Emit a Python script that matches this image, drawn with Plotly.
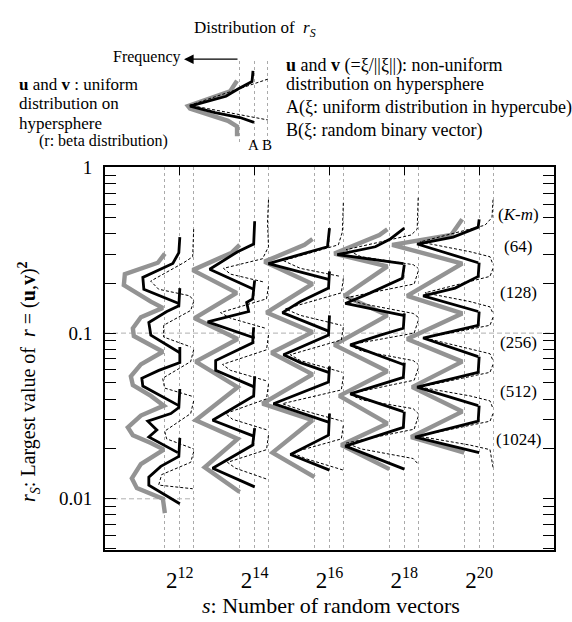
import math
import plotly.graph_objects as go

# ---------------- data ----------------
S_EXP = [12, 14, 16, 18, 20]                 # s = 2^k
TOP_TICKS = [12, 14, 16, 18, 20, 22]
XTICK_TEXT = ["2<sup>12</sup>", "2<sup>14</sup>", "2<sup>16</sup>", "2<sup>18</sup>", "2<sup>20</sup>"]
Y_TICKS = [0.01, 0.1, 1]
Y_TICK_TEXT = ["0.01", "0.1", "1"]
Y_MINOR = [0.005, 0.006, 0.007, 0.008, 0.009, 0.02, 0.03, 0.04, 0.05, 0.06, 0.07, 0.08, 0.09,
           0.2, 0.3, 0.4, 0.5, 0.6, 0.7, 0.8, 0.9]
GRID_R = [0.1, 0.01]            # dashed horizontal reference lines
GRID_X_END = [22.0, 12.4]       # how far (log2 s) each reference line is drawn
KM_LABELS = ["(<i>K</i>-<i>m</i>)", "(64)", "(128)", "(256)", "(512)", "(1024)"]
KM_LABEL_R = [0.52, 0.332, 0.175, 0.0873, 0.0447, 0.0227]

# baselines of the three distributions in each s-group (log2 units relative to 2^k)
GREY_OFFSET = -0.40
A_OFFSET = 0.0
B_OFFSET = 0.37
FREQ_PER_LOG2 = 37.4   # frequency units per log2(s) unit (frequency drawn leftwards)

# --- s = 2^12 ---
GREY_R_12 = [0.302, 0.266, 0.227, 0.195, 0.155, 0.142, 0.1246, 0.107, 0.0960, 0.0849, 0.0772, 0.0647, 0.0549,
             0.0485, 0.0418, 0.0365, 0.0318, 0.0270, 0.0242, 0.0217, 0.0198, 0.0162, 0.0133, 0.0116, 0.0100, 0.0082]
GREY_F_12 = [0, 7, 40, 41, 14, 2, 24, 32, 31, 14, 2, 24, 34, 32, 14, 1, 24, 37, 32, 14, 1, 24, 33, 28, 2, 0]
BLACK_R_12 = [0.380, 0.306, 0.263, 0.217, 0.184, 0.151, None, 0.187, 0.146, 0.135, 0.116, 0.0973, 0.0761, None,
              0.0826, 0.0664, 0.0596, 0.0534, 0.0479, 0.0365, None, 0.0460, 0.0355, 0.0327, 0.0294, 0.0260, 0.0236,
              0.0190, None, 0.0233, 0.0180, 0.0157, 0.0135, 0.0121, 0.00934]
BLACK_F_12 = [0, 1, 7, 37, 36, 1, None, 0, 1, 13, 31, 29, 0, None, 0, 0, 21, 38, 37, 1, None, 0, 1, 9, 32, 23, 31,
              2, None, 0, 1, 19, 31, 31, 0]
DASH_R_12 = [0.424, 0.289, 0.266, 0.206, 0.184, 0.168, 0.157, None, 0.155, 0.137, 0.1115, 0.0947, 0.0826, None,
             0.0793, 0.0673, 0.0534, 0.0466, 0.0413, None, 0.0390, 0.0327, 0.0256, 0.0230, 0.0200, None,
             0.0192, 0.0166, 0.0140, 0.0121, 0.0115]
DASH_F_12 = [0, 1, 10, 43, 35, 4, 0, None, 0, 3, 30, 30, 3, None, 0, 3, 31, 29, 0, None, 0, 3, 29, 27, 0, None,
             0, 3, 32, 35, 1]

# --- s = 2^14 ---
GREY_R_14 = [0.341, 0.306, 0.240, 0.175, 0.123, 0.0921, 0.0673, 0.0472, 0.0298, 0.0230, 0.0155, 0.0110]
GREY_F_14 = [0, 8, 47, 3, 45, 2, 44, 2, 44, 2, 35, 0]
BLACK_R_14 = [0.473, 0.345, 0.310, 0.243, 0.184, None, 0.208, 0.161, 0.153, 0.135, 0.117, 0.0934, None,
              0.1085, 0.0873, 0.0683, 0.0596, 0.0472, None, 0.0549, 0.0418, 0.0298, 0.0239, None,
              0.0267, 0.0211, 0.0153, 0.0118]
BLACK_F_14 = [0, 1, 17, 45, 1, None, 0, 2, 8, 6, 47, 0, None, 1, 2, 39, 39, 0, None, 0, 1, 42, 1, None,
              0, 2, 42, 0]
DASH_R_14 = [0.638, 0.466, 0.332, 0.281, 0.246, 0.227, 0.203, None, 0.192, 0.161, 0.133, 0.123, 0.107, None,
             0.0973, 0.0793, 0.0647, 0.0596, 0.0513, None, 0.0492, 0.0401, 0.0327, 0.0302, 0.0260, None,
             0.0242, 0.0198, 0.0166, 0.0153, 0.0131]
DASH_F_14 = [0, 1, 0, 6, 45, 38, 4, None, 0, 2, 48, 38, 3, None, 0, 2, 46, 38, 1, None, 0, 2, 43, 36, 1, None,
             0, 2, 41, 33, 1]

# --- s = 2^16 ---
GREY_R_16 = [0.370, 0.341, 0.270, 0.198, 0.133, 0.1014, 0.0761, 0.0564, 0.0375, 0.0298, 0.0190, 0.0135]
GREY_F_16 = [2, 10, 50, 2, 48, 2, 43, 2, 52, 2, 42, 0]
BLACK_R_16 = [0.430, 0.332, 0.302, 0.263, 0.211, None, 0.236, 0.187, 0.155, 0.133, 0.1028, None,
              0.128, 0.0973, 0.0741, 0.0664, 0.0580, None, 0.0630, 0.0506, 0.0375, 0.0290, None,
              0.0327, 0.0242, 0.0185, 0.0149]
BLACK_F_16 = [0, 2, 26, 61, 1, None, 0, 1, 29, 47, 1, None, 0, 1, 46, 29, 1, None, 0, 1, 56, 1, None,
              0, 1, 39, 0]
DASH_R_16 = [0.612, 0.407, 0.341, 0.274, 0.246, 0.220, None, 0.214, 0.175, 0.140, 0.128, 0.1115, None,
             0.1085, 0.0909, 0.0741, 0.0683, 0.0580, None, 0.0549, 0.0454, 0.0375, 0.0345, 0.0294, None,
             0.0277, 0.0230, 0.0190, 0.0175, 0.0149]
DASH_F_16 = [0, 1, 5, 60, 43, 3, None, 0, 2, 58, 43, 2, None, 0, 2, 53, 43, 1, None, 0, 2, 61, 43, 1, None,
             0, 2, 51, 38, 0]

# --- s = 2^18 ---
GREY_R_18 = [0.424, 0.391, 0.302, 0.253, 0.168, 0.128, 0.0849, 0.0588, 0.0418, 0.0285, 0.0211, 0.0151]
GREY_F_18 = [2, 10, 55, 2, 45, 2, 55, 2, 50, 2, 48, 0]
BLACK_R_18 = [0.430, 0.370, 0.332, 0.298, 0.263, None, 0.259, 0.214, 0.175, 0.151, 0.128, None,
              0.1315, 0.107, 0.0973, 0.0849, 0.0647, None, 0.0664, 0.0541, 0.0430, 0.0336, None,
              0.0336, 0.0270, 0.0208, 0.0151]
BLACK_F_18 = [0, 14, 29, 67, 1, None, 0, 2, 34, 59, 1, None, 0, 1, 24, 54, 1, None, 0, 1, 54, 1, None,
              0, 1, 59, 0]
DASH_R_18 = [0.656, 0.424, 0.391, 0.319, 0.289, 0.259, 0.246, None, 0.236, 0.198, 0.1635, 0.151, 0.1315, 0.1246,
             None, 0.119, 0.1000, 0.0849, 0.0782, 0.0683, 0.0647, None, 0.0613, 0.0520, 0.0430, 0.0396, 0.0350,
             0.0327, None, 0.0314, 0.0263, 0.0217, 0.0200, 0.0175, 0.0162]
DASH_F_18 = [0, 1, 7, 72, 57, 5, 0, None, 0, 4, 72, 57, 5, 0, None, 0, 4, 69, 57, 5, 0, None, 0, 4, 69, 57, 5,
             0, None, 0, 4, 72, 57, 5, 0]

# --- s = 2^20 ---
GREY_R_20 = [0.486, 0.391, 0.341, 0.263, 0.168, 0.1315, 0.0921, 0.0673, 0.0472, 0.0336, 0.0236, 0.0190]
GREY_F_20 = [2, 13, 72, 2, 57, 2, 57, 2, 52, 2, 53, 0]
BLACK_R_20 = [0.486, 0.436, 0.380, 0.345, 0.266, None, 0.266, 0.220, 0.187, 0.168, 0.135, None,
              0.135, 0.1115, 0.0934, 0.0721, None, 0.0721, 0.0580, 0.0472, 0.0365, None,
              0.0365, 0.0294, 0.0236, 0.0190]
BLACK_F_20 = [0, 1, 26, 62, 1, None, 0, 1, 24, 56, 1, None, 0, 1, 56, 1, None, 0, 1, 62, 1, None,
              0, 1, 64, 0]
DASH_R_20 = [0.638, 0.499, 0.448, 0.355, 0.310, 0.289, 0.259, None, 0.246, 0.220, 0.175, 0.155, 0.144, 0.1315,
             None, 0.1246, 0.1115, 0.0934, 0.0804, 0.0751, 0.0683, None, 0.0647, 0.0580, 0.0472, 0.0418, 0.0390,
             0.0350, None, 0.0327, 0.0294, 0.0239, 0.0211, 0.0198, 0.0155]
DASH_F_20 = [0, 1, 8, 73, 23, 3, 0, None, 0, 3, 68, 23, 3, 0, None, 0, 3, 68, 23, 3, 0, None, 0, 3, 73, 23, 3,
             0, None, 0, 3, 75, 23, 3, 0]

# --- legend sketch (value level 0..1, frequency units) ---
LEG_GREY_V = [0.76, 0.63, 0.45, 0.42, 0.27, 0.20, 0.08]
LEG_GREY_F = [2, 9, 51, 49, 11, 2, 2]
LEG_BLACK_V = [0.88, 0.75, 0.66, 0.57, 0.45, 0.37, 0.31, 0.25]
LEG_BLACK_F = [1, 2, 16, 28, 64, 39, 14, 0]
LEG_DASH_V = [0.78, 0.46, 0.28]
LEG_DASH_F = [0, 78, 0]

GREY = dict(s12=(GREY_R_12, GREY_F_12), s14=(GREY_R_14, GREY_F_14), s16=(GREY_R_16, GREY_F_16),
            s18=(GREY_R_18, GREY_F_18), s20=(GREY_R_20, GREY_F_20))
BLACK = dict(s12=(BLACK_R_12, BLACK_F_12), s14=(BLACK_R_14, BLACK_F_14), s16=(BLACK_R_16, BLACK_F_16),
             s18=(BLACK_R_18, BLACK_F_18), s20=(BLACK_R_20, BLACK_F_20))
DASH = dict(s12=(DASH_R_12, DASH_F_12), s14=(DASH_R_14, DASH_F_14), s16=(DASH_R_16, DASH_F_16),
            s18=(DASH_R_18, DASH_F_18), s20=(DASH_R_20, DASH_F_20))

# ---------------- figure ----------------
W, H = 572, 622
FONT = "Liberation Serif"
XRANGE = [10, 22]


def px(x):
    return x / W


def py(y):
    return 1 - y / H


def xs(base, freqs):
    return [None if f is None else base - f / FREQ_PER_LOG2 for f in freqs]


GREY_STYLE = dict(color="#939393", width=4.4)
BLACK_STYLE = dict(color="black", width=2.8)
DASH_STYLE = dict(color="black", width=1.0, dash="3px,2px")

fig = go.Figure()
# dashed horizontal reference lines (drawn first, below the curves)
for gr, xend in zip(GRID_R, GRID_X_END):
    fig.add_trace(go.Scatter(x=[XRANGE[0], xend], y=[gr, gr], mode="lines",
                             line=dict(color="#b0b0b0", width=1, dash="5px,3px"), hoverinfo="skip"))
for k in S_EXP:
    r, f = GREY["s%d" % k]
    fig.add_trace(go.Scatter(x=xs(k + GREY_OFFSET, f), y=r, mode="lines", line=GREY_STYLE,
                             connectgaps=False, hoverinfo="skip"))
for k in S_EXP:
    r, f = DASH["s%d" % k]
    fig.add_trace(go.Scatter(x=xs(k + B_OFFSET, f), y=r, mode="lines", line=DASH_STYLE,
                             connectgaps=False, hoverinfo="skip"))
for k in S_EXP:
    r, f = BLACK["s%d" % k]
    fig.add_trace(go.Scatter(x=xs(k + A_OFFSET, f), y=r, mode="lines", line=BLACK_STYLE,
                             connectgaps=False, hoverinfo="skip"))

# invisible anchors so that the overlay axes (top ticks, baseline grid) are drawn
for ax in ("x2", "x3"):
    fig.add_trace(go.Scatter(x=[S_EXP[0]], y=[Y_TICKS[1]], xaxis=ax, yaxis="y", mode="markers",
                             marker=dict(opacity=0), hoverinfo="skip"))

# legend sketch on an inset axis pair
fig.add_trace(go.Scatter(x=xs(GREY_OFFSET, LEG_GREY_F), y=LEG_GREY_V, mode="lines", line=GREY_STYLE,
                         xaxis="x4", yaxis="y4", hoverinfo="skip"))
fig.add_trace(go.Scatter(x=xs(B_OFFSET, LEG_DASH_F), y=LEG_DASH_V, mode="lines", line=DASH_STYLE,
                         xaxis="x4", yaxis="y4", hoverinfo="skip"))
fig.add_trace(go.Scatter(x=xs(A_OFFSET, LEG_BLACK_F), y=LEG_BLACK_V, mode="lines", line=BLACK_STYLE,
                         xaxis="x4", yaxis="y4", hoverinfo="skip"))

baselines = []
for k in S_EXP:
    baselines += [k + GREY_OFFSET, k + A_OFFSET, k + B_OFFSET]

XDOM = [px(105), px(554)]
YDOM = [py(549), py(160)]

fig.update_layout(
    width=W, height=H, margin=dict(l=0, r=0, t=0, b=0),
    paper_bgcolor="white", plot_bgcolor="rgba(0,0,0,0)", showlegend=False,
    font=dict(family=FONT, color="black"),
    xaxis=dict(domain=XDOM, range=XRANGE, tickvals=S_EXP, ticktext=XTICK_TEXT, ticks="",
               showline=True, linecolor="black", linewidth=1.5, mirror=True, showgrid=False,
               zeroline=False, tickfont=dict(size=23, family=FONT), ticklabelstandoff=8, anchor="y"),
    xaxis2=dict(overlaying="x", side="top", range=XRANGE, tickvals=TOP_TICKS, ticks="inside", ticklen=8,
                tickwidth=1.3, tickcolor="black", showticklabels=False, showline=False, showgrid=False,
                zeroline=False, anchor="y"),
    xaxis3=dict(overlaying="x", range=XRANGE, tickvals=baselines, ticks="", showticklabels=False,
                showline=False, showgrid=True, gridcolor="#aaaaaa", gridwidth=1, griddash="3px,3px",
                zeroline=False, anchor="y"),
    yaxis=dict(domain=YDOM, type="log", range=[-2.31, 0.0], tickvals=Y_TICKS, ticktext=Y_TICK_TEXT,
               ticks="inside", ticklen=11, tickwidth=1.3, tickcolor="black", mirror="allticks",
               showline=True, linecolor="black", linewidth=2, showgrid=False, zeroline=False,
               minor=dict(tickvals=Y_MINOR, ticks="inside", ticklen=7, tickwidth=1.2, tickcolor="black",
                          showgrid=False),
               tickfont=dict(size=19, family=FONT), ticklabelstandoff=7, anchor="x"),
    xaxis4=dict(domain=[px(183), px(272)], range=[(183 - 254) / 37.4, (272 - 254) / 37.4],
                tickvals=[GREY_OFFSET, A_OFFSET, B_OFFSET], showticklabels=False, ticks="",
                showline=False, zeroline=False, showgrid=True, gridcolor="#aaaaaa", griddash="3px,3px",
                anchor="y4"),
    yaxis4=dict(domain=[py(135), py(52)], range=[0, 1], showticklabels=False, ticks="", showline=False,
                zeroline=False, showgrid=False, anchor="x4"),
)

ann = []
for lab, rv in zip(KM_LABELS, KM_LABEL_R):
    ann.append(dict(x=21.05, y=math.log10(rv), xref="x", yref="y", text=lab, showarrow=False,
                    xanchor="center", yanchor="middle", font=dict(size=17, family=FONT)))


def text(x, y, s, size=18, anchor="left"):
    ann.append(dict(x=px(x), y=py(y), xref="paper", yref="paper", text=s, showarrow=False, borderpad=0,
                    xanchor=anchor, yanchor="middle", font=dict(size=size, family=FONT)))


text(255, 19, "Distribution of  <i>r</i><sub><i>S</i></sub>", 17, "center")
text(182, 48, "Frequency", 16, "right")
text(18, 76, "<b>u</b> and <b>v</b> : uniform", 17)
text(18, 95.5, "distribution on", 17)
text(18, 115, "hypersphere", 17)
text(38, 133, "(r: beta distribution)", 16)
text(253, 137, "A", 15, "center")
text(267, 137, "B", 15, "center")
text(285, 56, "<b>u</b> and <b>v</b> (=ξ/||ξ||): non-uniform", 18)
text(285, 75, "distribution on hypersphere", 18)
text(285, 99, "A(ξ: uniform distribution in hypercube)", 18)
text(285, 122, "B(ξ: random binary vector)", 18)
text(331, 605, "<i>s</i>: Number of random vectors", 22, "center")
ann.append(dict(x=px(29), y=py(378), xref="paper", yref="paper", textangle=-90, showarrow=False,
                text="<i>r</i><sub><i>S</i></sub>: Largest value of  <i>r</i> = (<b>u</b>,<b>v</b>)<sup><b>2</b></sup>",
                xanchor="center", yanchor="middle", font=dict(size=20, family=FONT)))
# frequency arrow
ann.append(dict(x=px(184), y=py(50), xref="paper", yref="paper", ax=55, ay=0, text="", showarrow=True,
                arrowhead=2, arrowsize=1.6, arrowwidth=1.2, arrowcolor="black"))
fig.update_layout(annotations=ann)

# pin the figure to the page's top-left corner (no body margin)
PIN = ("document.body.style.margin='0';var d=document.getElementById('{plot_id}');"
       "d.style.position='fixed';d.style.left='0px';d.style.top='0px';")
fig.write_html("out.html", post_script=PIN, config={"displayModeBar": False})
